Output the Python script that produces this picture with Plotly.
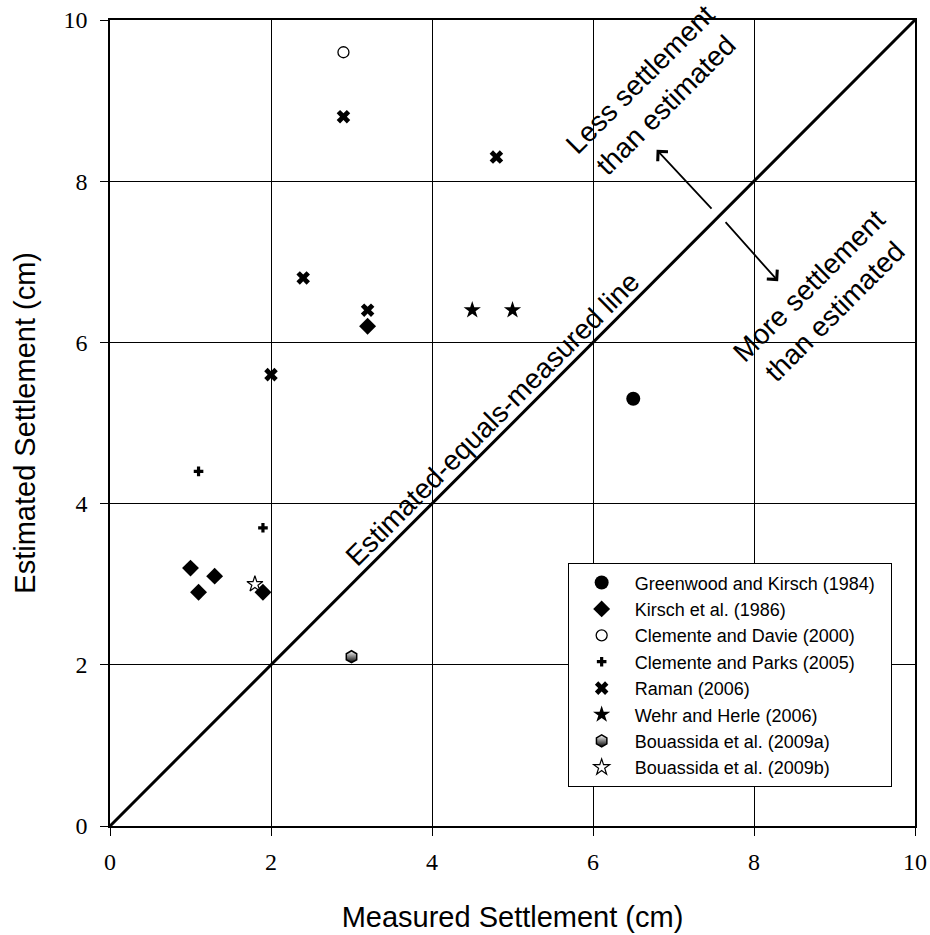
import plotly.graph_objects as go

# ---- data ----
greenwood_x = [6.5]
greenwood_y = [5.3]
kirsch_x = [1.0, 1.1, 1.3, 1.9, 3.2]
kirsch_y = [3.2, 2.9, 3.1, 2.9, 6.2]
davie_x = [2.9]
davie_y = [9.6]
parks_x = [1.1, 1.9]
parks_y = [4.4, 3.7]
raman_x = [2.9, 4.8, 2.4, 3.2, 2.0]
raman_y = [8.8, 8.3, 6.8, 6.4, 5.6]
wehr_x = [4.5, 5.0]
wehr_y = [6.4, 6.4]
bou_a_x = [3.0]
bou_a_y = [2.1]
bou_b_x = [1.8]
bou_b_y = [3.0]
line_x = [0, 10]
line_y = [0, 10]
tick_vals = [0, 2, 4, 6, 8, 10]

fig = go.Figure()

fig.add_trace(go.Scatter(x=line_x, y=line_y, mode="lines", line=dict(color="black", width=3),
                         showlegend=False, hoverinfo="skip"))

def add(name, xs, ys, marker):
    fig.add_trace(go.Scatter(x=xs, y=ys, mode="markers", name=name, marker=marker))

add("Greenwood and Kirsch (1984)&nbsp;&nbsp;", greenwood_x, greenwood_y,
    dict(symbol="circle", size=14, color="black"))
add("Kirsch et al. (1986)", kirsch_x, kirsch_y,
    dict(symbol="diamond", size=13, color="black"))
add("Clemente and Davie (2000)", davie_x, davie_y,
    dict(symbol="circle", size=11, color="white", line=dict(color="black", width=1.3)))
add("Clemente and Parks (2005)", parks_x, parks_y,
    dict(symbol="cross", size=8, color="black"))
add("Raman (2006)", raman_x, raman_y,
    dict(symbol="x", size=12, color="black"))
add("Wehr and Herle (2006)", wehr_x, wehr_y,
    dict(symbol="star", size=13, color="black"))
add("Bouassida et al. (2009a)", bou_a_x, bou_a_y,
    dict(symbol="hexagon", size=12, color="white", line=dict(color="black", width=1.5),
         gradient=dict(type="vertical", color="black")))
add("Bouassida et al. (2009b)", bou_b_x, bou_b_y,
    dict(symbol="star", size=12, color="white", line=dict(color="black", width=1.2)))

axis_common = dict(range=[0, 10], tickvals=tick_vals, showgrid=True, gridcolor="black", gridwidth=1,
                   showline=True, linecolor="black", linewidth=1.5, mirror=True,
                   ticks="outside", ticklen=8, tickcolor="black", zeroline=False,
                   tickfont=dict(family="Liberation Serif", size=24, color="black"),
                   automargin=False, ticklabeloverflow="allow")

fig.update_xaxes(**axis_common, ticklabelstandoff=5,
                 title=dict(text="Measured Settlement (cm)", standoff=33,
                            font=dict(family="Liberation Sans", size=29, color="black")))
fig.update_yaxes(**axis_common, ticklabelstandoff=8)

fig.add_annotation(xref="paper", yref="paper", x=-0.106, y=0.5, xanchor="center", yanchor="middle",
                   text="Estimated Settlement (cm)", showarrow=False, textangle=-90,
                   font=dict(family="Liberation Sans", size=29, color="black"))

annot_font = dict(family="Liberation Sans", size=28, color="black")
fig.add_annotation(x=4.76, y=5.05, text="Estimated-equals-measured line", showarrow=False,
                   textangle=-45, font=annot_font)
fig.add_annotation(x=6.74, y=9.1, text="Less settlement<br>than estimated", showarrow=False,
                   textangle=-45, font=annot_font)
fig.add_annotation(x=8.84, y=6.55, text="More settlement<br>than estimated", showarrow=False,
                   textangle=-45, font=annot_font)
fig.add_annotation(x=6.79, y=8.39, ax=7.49, ay=7.64, axref="x", ayref="y", xref="x", yref="y",
                   text="", showarrow=True, arrowhead=4, arrowsize=1.5, arrowwidth=1.8, arrowcolor="black")
fig.add_annotation(x=8.30, y=6.76, ax=7.63, ay=7.51, axref="x", ayref="y", xref="x", yref="y",
                   text="", showarrow=True, arrowhead=4, arrowsize=1.5, arrowwidth=1.8, arrowcolor="black")

fig.update_layout(
    width=930, height=935,
    margin=dict(l=110, r=15, t=20, b=109),
    plot_bgcolor="white", paper_bgcolor="white",
    legend=dict(x=0.971, y=0.048, xanchor="right", yanchor="bottom",
                bgcolor="white", bordercolor="black", borderwidth=1,
                font=dict(family="Liberation Sans", size=18, color="black"),
                tracegroupgap=0, itemwidth=56),
)

fig.write_html("out.html", config={"displayModeBar": False},
               post_script="document.body.style.margin='0';document.body.style.overflow='hidden';")
